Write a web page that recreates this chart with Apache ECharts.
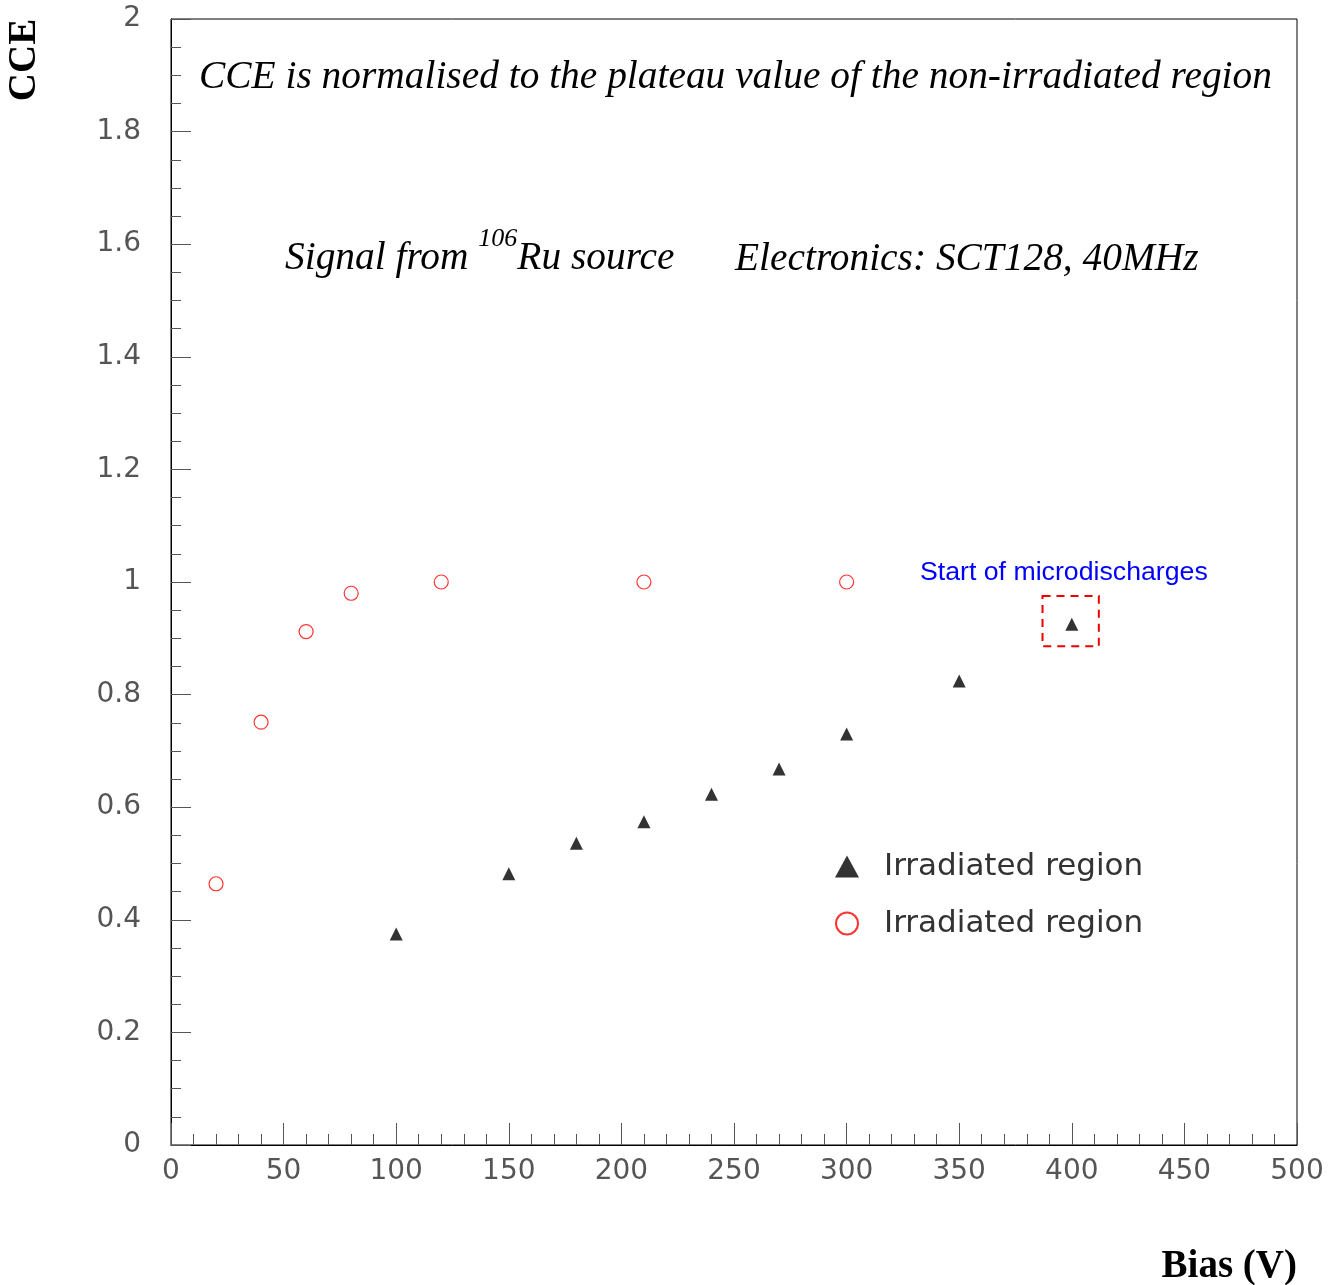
<!DOCTYPE html>
<html>
<head>
<meta charset="utf-8">
<script src="https://cdn.jsdelivr.net/npm/echarts@6/dist/echarts.min.js"></script>
<style>
  html, body { margin: 0; padding: 0; background: #fff; }
  #chart { width: 1333px; height: 1285px; }
</style>
</head>
<body>
<div id="chart"></div>
<script>
// irradiated region (black triangles)
const irrBias = [100, 150, 180, 210, 240, 270, 300, 350, 400];
const irrCce = [0.375, 0.482, 0.536, 0.574, 0.623, 0.668, 0.730, 0.824, 0.925];

// non-irradiated region (red open circles)
const refBias = [20, 40, 60, 80, 120, 210, 300];
const refCce = [0.464, 0.751, 0.912, 0.980, 1.0, 1.0, 1.0];

// dashed box around the microdischarge point
const boxX = [387, 412];
const boxY = [0.886, 0.975];

const labelFont = 'DejaVu Sans';
const serif = 'Liberation Serif';

const chart = echarts.init(document.getElementById('chart'));

const pairs = (xs, ys) => xs.map((x, i) => [x, ys[i]]);

const option = {
	backgroundColor: '#fff',
	animation: false,
	grid: {
		left: 171, top: 19, right: 36, bottom: 140,
		show: true, borderColor: '#000', borderWidth: 1
	},
	xAxis: {
		type: 'value', min: 0, max: 500, interval: 50,
		axisLine: { show: true, onZero: false, lineStyle: { color: '#000', width: 1 } },
		axisTick: { show: true, inside: true, length: 22, lineStyle: { color: '#555' } },
		minorTick: { show: true, splitNumber: 5, length: 11, lineStyle: { color: '#555' } },
		splitLine: { show: false },
		axisLabel: { fontFamily: labelFont, fontSize: 28, color: '#555', margin: 13 }
	},
	yAxis: {
		type: 'value', min: 0, max: 2, interval: 0.2,
		axisLine: { show: true, onZero: false, lineStyle: { color: '#000', width: 1 } },
		axisTick: { show: true, inside: true, length: 20, lineStyle: { color: '#555' } },
		minorTick: { show: true, splitNumber: 4, length: 10, lineStyle: { color: '#555' } },
		splitLine: { show: false },
		axisLabel: { fontFamily: labelFont, fontSize: 28, color: '#555', margin: 30 }
	},
	legend: {
		orient: 'vertical',
		left: 830, top: 846,
		itemWidth: 24, itemHeight: 22, itemGap: 26,
		textStyle: { fontFamily: labelFont, fontSize: 31, color: '#333', padding: [0, 0, 0, 20] },
		formatter: name => name.trim(),
		data: ['Irradiated region', 'Irradiated region ']
	},
	series: [
		{
			name: 'Irradiated region',
			type: 'scatter',
			symbol: 'triangle',
			symbolSize: 13,
			itemStyle: { color: '#000' },
			data: pairs(irrBias, irrCce),
			markArea: {
				silent: true,
				itemStyle: { color: 'rgba(0,0,0,0)', borderColor: '#e00', borderWidth: 2, borderType: [8, 6] },
				data: [[{ coord: [boxX[0], boxY[1]] }, { coord: [boxX[1], boxY[0]] }]]
			}
		},
		{
			name: 'Irradiated region ',
			type: 'scatter',
			symbol: 'circle',
			symbolSize: 14,
			itemStyle: { color: '#fff', borderColor: '#f00', borderWidth: 1.2 },
			data: pairs(refBias, refCce)
		}
	],
	graphic: [
		{
			type: 'text', left: 199, top: 58,
			style: { text: 'CCE is normalised to the plateau value of the non-irradiated region',
				font: 'italic 39.4px ' + serif, fill: '#000' }
		},
		{
			type: 'text', left: 285, top: 226,
			style: {
				text: '{a|Signal from }{s|106}{a|Ru source}',
				rich: {
					a: { font: 'italic 39.4px ' + serif, fill: '#000', lineHeight: 52, verticalAlign: 'bottom' },
					s: { font: 'italic 26px ' + serif, fill: '#000', lineHeight: 26, verticalAlign: 'top' }
				}
			}
		},
		{
			type: 'text', left: 735, top: 240,
			style: { text: 'Electronics: SCT128, 40MHz', font: 'italic 39.4px ' + serif, fill: '#000' }
		},
		{
			type: 'text', left: 920, top: 559,
			style: { text: 'Start of microdischarges', font: '26.7px Liberation Sans', fill: '#00f' }
		},
		{
			type: 'text', x: 25, y: 60, rotation: Math.PI / 2,
			style: { text: 'CCE', font: 'bold 39px ' + serif, fill: '#000', align: 'center', verticalAlign: 'middle' }
		},
		{
			type: 'text', right: 36, top: 1247,
			style: { text: 'Bias (V)', font: 'bold 39px ' + serif, fill: '#000' }
		}
	]
};

chart.setOption(option);
</script>
</body>
</html>
